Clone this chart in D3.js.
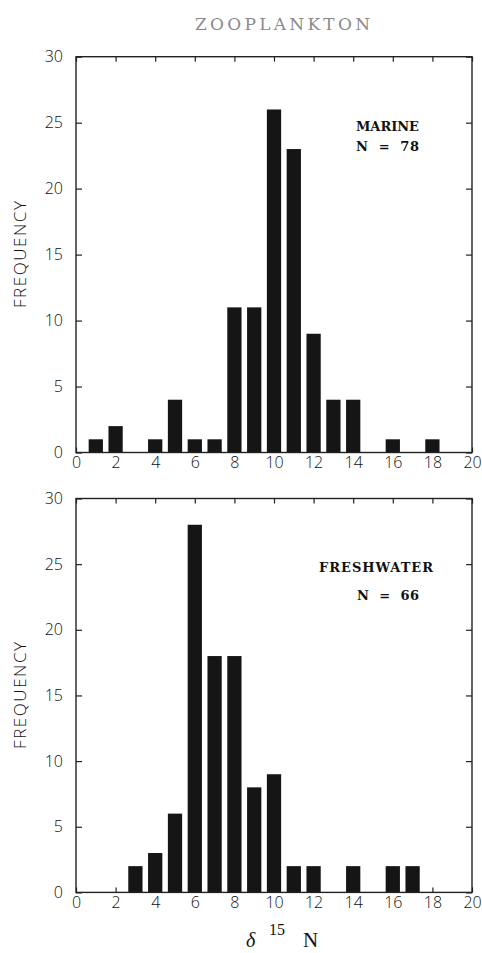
<!DOCTYPE html>
<html>
<head>
<meta charset="utf-8">
<script src="https://cdn.jsdelivr.net/npm/d3@7"></script>
<style>
  html, body { margin: 0; padding: 0; background: #fff; }
  svg { display: block; }
  .tick text { font-family: "Open Sans", sans-serif; font-weight: 300; font-size: 16px; fill: #111; }
</style>
</head>
<body>
<svg id="chart" width="482" height="953"></svg>
<script>
// Histogram of zooplankton delta-15N values, marine and freshwater
const bins = [0, 1, 2, 3, 4, 5, 6, 7, 8, 9, 10, 11, 12, 13, 14, 15, 16, 17, 18, 19, 20];
const marineFreq =     [0, 1, 2, 0, 1, 4, 1, 1, 11, 11, 26, 23, 9, 4, 4, 0, 1, 0, 1, 0, 0];
const freshwaterFreq = [0, 0, 0, 2, 3, 6, 28, 18, 18, 8, 9, 2, 2, 0, 2, 0, 2, 2, 0, 0, 0];
const xTicks = [0, 2, 4, 6, 8, 10, 12, 14, 16, 18, 20];
const yTicks = [0, 5, 10, 15, 20, 25, 30];

const svg = d3.select("#chart");
const x = d3.scaleLinear().domain([0, 20]).range([76, 472]);
const barHalf = 0.36;
const serif = "DejaVu Serif, serif";

function panel(freq, yTop, yBottom, label, nText, labelX, labelW, nX, nW, labelY, nY) {
  const y = d3.scaleLinear().domain([0, 30]).range([yBottom, yTop]);
  const g = svg.append("g");

  // inward ticks on all four sides
  g.append("g").attr("transform", `translate(0,${yBottom})`)
    .call(d3.axisBottom(x).tickValues(xTicks).tickSizeInner(-5).tickSizeOuter(0).tickPadding(4))
    .call(a => a.select(".domain").remove());
  g.append("g").attr("transform", `translate(0,${yTop})`)
    .call(d3.axisTop(x).tickValues(xTicks).tickSizeInner(-5).tickSizeOuter(0).tickFormat(""))
    .call(a => a.select(".domain").remove());
  g.append("g").attr("transform", `translate(${x(0)},0)`)
    .call(d3.axisLeft(y).tickValues(yTicks).tickSizeInner(-6).tickSizeOuter(0).tickPadding(13))
    .call(a => a.select(".domain").remove());
  g.append("g").attr("transform", `translate(${x(20)},0)`)
    .call(d3.axisRight(y).tickValues(yTicks).tickSizeInner(-6).tickSizeOuter(0).tickFormat(""))
    .call(a => a.select(".domain").remove());
  g.selectAll(".tick line").attr("stroke", "#222").attr("stroke-width", 1.2);

  // bars
  const data = bins.map((b, i) => ({ b, v: freq[i] })).filter(d => d.v > 0);
  g.append("g").selectAll("rect").data(data).join("rect")
    .attr("x", d => x(d.b - barHalf))
    .attr("width", d => x(d.b + barHalf) - x(d.b - barHalf))
    .attr("y", d => y(d.v))
    .attr("height", d => y(0) - y(d.v))
    .attr("fill", "#151515");

  // frame
  g.append("rect")
    .attr("x", x(0)).attr("y", y(30))
    .attr("width", x(20) - x(0)).attr("height", y(0) - y(30))
    .attr("fill", "none").attr("stroke", "#222").attr("stroke-width", 1.4);

  // y label
  g.append("text")
    .attr("transform", `translate(26,${(yTop + yBottom) / 2}) rotate(-90)`)
    .attr("text-anchor", "middle")
    .attr("font-family", "Open Sans, sans-serif").attr("font-weight", 300)
    .attr("font-size", 17).attr("fill", "#111")
    .attr("textLength", 107).attr("lengthAdjust", "spacing")
    .text("FREQUENCY");

  // annotation
  g.append("text").attr("x", labelX).attr("y", labelY)
    .attr("font-family", serif).attr("font-weight", "bold")
    .attr("font-size", 13).attr("fill", "#111")
    .attr("textLength", labelW).attr("lengthAdjust", "spacing").text(label);
  g.append("text").attr("x", nX).attr("y", nY)
    .attr("font-family", serif).attr("font-weight", "bold")
    .attr("font-size", 13).attr("fill", "#111").attr("xml:space", "preserve")
    .attr("textLength", nW).attr("lengthAdjust", "spacing").text(nText);
}

panel(marineFreq, 56.7, 452.5, "MARINE", "N  =  78", 356, 63, 356, 63, 131, 151);
panel(freshwaterFreq, 498.5, 892.4, "FRESHWATER", "N  =  66", 319, 114, 357, 62, 572, 600);

// title
svg.append("text")
  .attr("x", 195).attr("y", 30)
  .attr("font-family", serif).attr("font-size", 17)
  .attr("fill", "#8a8a8a")
  .attr("textLength", 175).attr("lengthAdjust", "spacing")
  .text("ZOOPLANKTON");

// x label: delta 15 N
const xl = svg.append("text").attr("y", 947).attr("font-family", "Liberation Serif, serif").attr("fill", "#111");
xl.append("tspan").attr("x", 246).attr("font-style", "italic").attr("font-size", 20).text("δ");
xl.append("tspan").attr("x", 269).attr("dy", -12).attr("font-size", 16).text("15");
xl.append("tspan").attr("x", 303).attr("dy", 12).attr("font-size", 21).text("N");
</script>
</body>
</html>
